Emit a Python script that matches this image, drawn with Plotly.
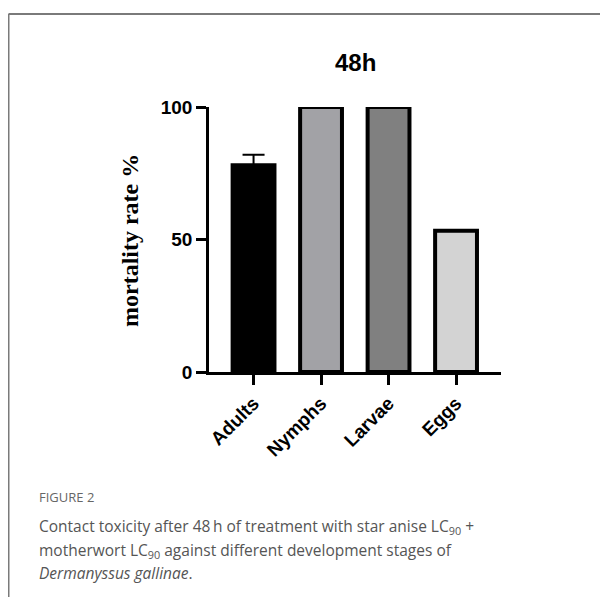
import plotly.graph_objects as go

categories = ["Adults", "Nymphs", "Larvae", "Eggs"]
mortality = [78, 100, 100, 53.3]
error_plus = [4, 0, 0, 0]
bar_colors = ["#000000", "#a2a2a6", "#808080", "#d3d3d3"]
y_ticks = [0, 50, 100]

OFF = 8  # page body margin
W, H = 608 - OFF, 597 - OFF
L, R = 209 - OFF, 501 - OFF
T, B = 107 - OFF, 372 - OFF

def px(xp):
    return (xp - OFF - L) / (R - L)

def py(yp):
    return (B - (yp - OFF)) / (B - T)

fig = go.Figure()
fig.add_trace(go.Bar(
    x=categories, y=mortality,
    marker=dict(color=bar_colors, line=dict(color="#000000", width=4)),
    width=0.62,
    error_y=dict(type="data", symmetric=False, array=error_plus, arrayminus=[0, 0, 0, 0],
                 color="#000000", thickness=2, width=11),
))

fig.update_layout(
    width=W, height=H,
    margin=dict(l=L, r=W - R, t=T, b=H - B),
    paper_bgcolor="white", plot_bgcolor="white",
    showlegend=False,
)
fig.update_xaxes(
    range=[-0.66, 3.666], showline=True, linecolor="#000000", linewidth=2.5,
    ticks="outside", ticklen=10, tickwidth=2.5, tickcolor="#000000",
    tickangle=-45, showgrid=False, zeroline=False,
    tickfont=dict(family="Liberation Sans, Arial", size=19, color="#000000", weight="bold"),
)
fig.update_yaxes(
    range=[0, 100], tickvals=y_ticks, showline=True, linecolor="#000000", linewidth=2.5,
    ticks="outside", ticklen=10, tickwidth=2.5, tickcolor="#000000",
    showgrid=False, zeroline=False,
    tickfont=dict(family="Liberation Sans, Arial", size=19, color="#000000", weight="bold"),
)

annotations = [
    dict(text="<b>48h</b>", x=0.5, y=py(62), xref="paper", yref="paper",
         xanchor="center", yanchor="middle", showarrow=False,
         font=dict(family="Liberation Sans, Arial", size=24, color="#000000")),
    dict(text="<b>mortality rate %</b>", x=px(130), y=py(240), xref="paper", yref="paper",
         xanchor="center", yanchor="middle", textangle=-90, showarrow=False,
         font=dict(family="Liberation Serif, Times New Roman", size=24, color="#000000")),
    dict(text="FIGURE 2", x=px(37), y=py(497), xref="paper", yref="paper",
         xanchor="left", yanchor="middle", showarrow=False,
         font=dict(family="Open Sans", size=13, color="#666666")),
    dict(text="Contact toxicity after 48\u2009h of treatment with star anise LC<sub>90</sub> +",
         x=px(37), y=py(526), xref="paper", yref="paper",
         xanchor="left", yanchor="middle", showarrow=False,
         font=dict(family="Open Sans", size=15.5, color="#555555")),
    dict(text="motherwort LC<sub>90</sub> against different development stages of",
         x=px(37), y=py(550), xref="paper", yref="paper",
         xanchor="left", yanchor="middle", showarrow=False,
         font=dict(family="Open Sans", size=15.5, color="#555555")),
    dict(text="<i>Dermanyssus gallinae</i>.",
         x=px(37), y=py(573), xref="paper", yref="paper",
         xanchor="left", yanchor="middle", showarrow=False,
         font=dict(family="Open Sans", size=15.5, color="#555555")),
]
fig.update_layout(annotations=annotations)

shapes = [
    dict(type="line", xref="paper", yref="paper", x0=px(8.5), x1=px(608), y0=py(14), y1=py(14),
         line=dict(color="#7a7a7a", width=2)),
    dict(type="line", xref="paper", yref="paper", x0=px(8.5), x1=px(8.5), y0=py(14), y1=py(597),
         line=dict(color="#7a7a7a", width=2)),
]
fig.update_layout(shapes=shapes)

fig.write_html("out.html")
